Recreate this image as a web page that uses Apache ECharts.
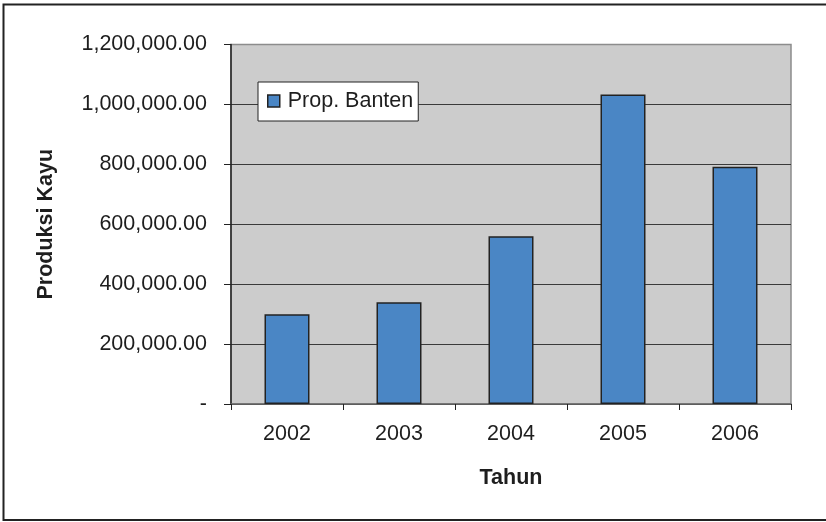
<!DOCTYPE html>
<html>
<head>
<meta charset="utf-8">
<script src="https://cdn.jsdelivr.net/npm/echarts@6/dist/echarts.min.js"></script>
<style>
  html, body { margin: 0; padding: 0; background: #ffffff; }
  #chart { width: 826px; height: 522px; }
</style>
</head>
<body>
<div id="chart"></div>
<script>
// Wood production, Banten province, per year
const years = ['2002', '2003', '2004', '2005', '2006'];
const produksi = [300000, 340000, 560000, 1033000, 792000];
const seriesName = 'Prop. Banten';
const yTicks = { min: 0, max: 1200000, interval: 200000 };

function formatValue(v) {
  if (v === 0) return '-';
  const parts = v.toFixed(2).split('.');
  parts[0] = parts[0].replace(/\B(?=(\d{3})+(?!\d))/g, ',');
  return parts.join('.');
}

const FONT = '"Liberation Sans", Arial, sans-serif';
const FS = 21.5;
const chart = echarts.init(document.getElementById('chart'), null, { renderer: 'canvas' });

chart.setOption({
  backgroundColor: '#ffffff',
  animation: false,
  textStyle: { fontFamily: FONT, color: '#1e1e1e' },
  graphic: [{
    type: 'rect',
    shape: { x: 3.5, y: 4.5, width: 830, height: 515.5 },
    style: { fill: 'none', stroke: '#222', lineWidth: 2 },
    silent: true,
    z: 100
  }],
  grid: {
    left: 231, right: 35, top: 44.5, bottom: 118,
    show: true,
    backgroundColor: '#cccccc',
    borderColor: '#8c8c8c',
    borderWidth: 1.5
  },
  legend: {
    left: 258, top: 82,
    orient: 'horizontal',
    backgroundColor: '#ffffff',
    borderColor: '#222',
    borderWidth: 1,
    padding: [8, 5, 9, 9],
    icon: 'rect',
    itemWidth: 12,
    itemHeight: 12,
    itemStyle: { color: '#4a86c5', borderColor: '#222', borderWidth: 1.5 },
    textStyle: { fontFamily: FONT, fontSize: FS, color: '#1e1e1e', padding: [0, 0, 0, 3] },
    data: [seriesName]
  },
  xAxis: {
    type: 'category',
    data: years,
    name: 'Tahun',
    nameLocation: 'middle',
    nameGap: 63,
    nameTextStyle: { fontFamily: FONT, fontSize: FS, fontWeight: 'bold', color: '#1e1e1e' },
    axisLine: { show: true, lineStyle: { color: '#6a6a6a', width: 1.5 } },
    axisTick: { show: true, length: 6, lineStyle: { color: '#222', width: 1 } },
    axisLabel: { fontFamily: FONT, fontSize: FS, color: '#1e1e1e', margin: 19 },
    splitLine: { show: false }
  },
  yAxis: {
    type: 'value',
    min: yTicks.min,
    max: yTicks.max,
    interval: yTicks.interval,
    name: 'Produksi Kayu',
    nameLocation: 'middle',
    nameGap: 174,
    nameTextStyle: { fontFamily: FONT, fontSize: FS, fontWeight: 'bold', color: '#1e1e1e' },
    axisLine: { show: true, lineStyle: { color: '#222', width: 1.5 } },
    axisTick: { show: true, length: 7, lineStyle: { color: '#222', width: 1 } },
    axisLabel: { fontFamily: FONT, fontSize: FS, color: '#1e1e1e', margin: 24, formatter: formatValue },
    splitLine: { show: true, showMaxLine: false, lineStyle: { color: '#3a3a3a', width: 1 } }
  },
  series: [{
    name: seriesName,
    type: 'bar',
    data: produksi,
    barWidth: 45,
    itemStyle: { color: '#4a86c5', borderColor: '#222', borderWidth: 1.5 }
  }]
});
</script>
</body>
</html>
